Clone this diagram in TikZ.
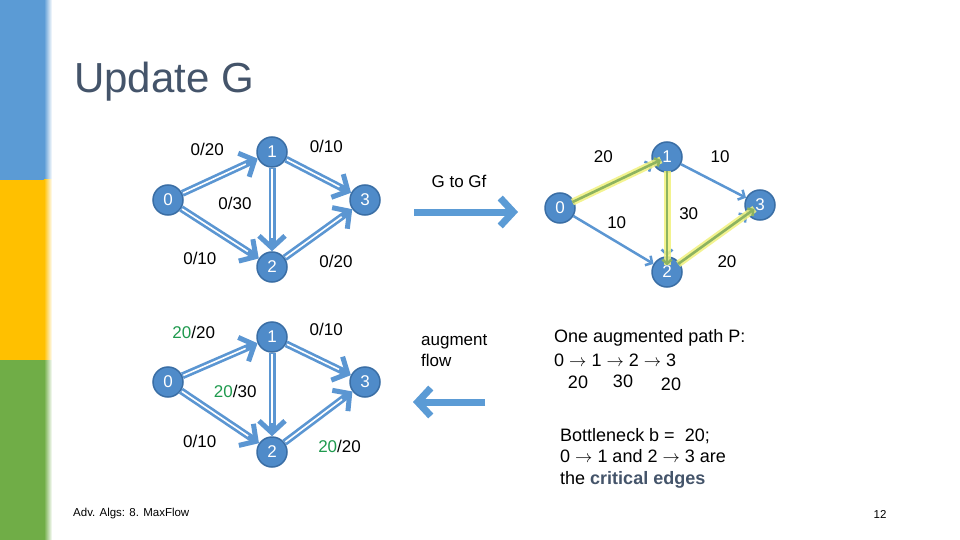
\documentclass[tikz,border=0pt]{standalone}
\usepackage{fontspec}
\setmainfont{Liberation Sans}
\usetikzlibrary{positioning,arrows.meta}

\definecolor{barblue}{HTML}{5B9BD5}
\definecolor{baryellow}{HTML}{FFC000}
\definecolor{bargreen}{HTML}{70AD47}
\definecolor{nodeblue}{HTML}{4F8BC9}
\definecolor{nodeline}{HTML}{3A6EA5}
\definecolor{edgeblue}{HTML}{5B96D2}
\definecolor{titlegray}{HTML}{44546A}
\definecolor{flowgreen}{HTML}{1F9A4E}
\definecolor{hlyellow}{HTML}{F2F27C}
\definecolor{hlgreen}{HTML}{8DB360}

\begin{document}
\begin{tikzpicture}[x=1pt,y=-1pt,on grid]
    \tikzstyle{vertex}=[circle,draw=nodeline,line width=1.5pt,fill=nodeblue,text=white,minimum size=30pt,inner sep=0pt,font=\fontsize{17}{17}\selectfont]
    \tikzstyle{weight}=[font=\fontsize{17}{17}\selectfont,inner sep=2pt]
    \tikzstyle{txt}=[font=\fontsize{18}{21.5}\selectfont,inner sep=0pt]
    \tikzstyle{flow}=[draw=edgeblue,line width=7pt,-{Straight Barb[length=12pt,width=26pt,line width=5pt]},postaction={draw=white,line width=1.6pt,-,shorten >=13pt,shorten <=1pt}]
    \tikzstyle{res}=[draw=edgeblue,line width=2.5pt,-{Straight Barb[length=5pt,width=11pt,line width=2.5pt]}]
    \tikzstyle{hl}=[draw=hlyellow,draw opacity=.85,line width=7pt,shorten <=-2pt,shorten >=-9pt,postaction={draw=hlgreen,draw opacity=1,line width=2.5pt,-{Straight Barb[length=4pt,width=9pt,line width=2.5pt]}}]
    \tikzstyle{bigarrow}=[draw=barblue,line width=7pt,-{Straight Barb[length=13pt,width=28pt,line width=7pt]}]

    \useasboundingbox (0,0) rectangle (960,540);
    \fill[white] (0,0) rectangle (960,540);
    \fill[barblue] (0,0) rectangle (44,180);
    \fill[baryellow] (0,180) rectangle (44,360);
    \fill[bargreen] (0,360) rectangle (44,540);
    \shade[left color=barblue,right color=white] (44,0) rectangle (52,180);
    \shade[left color=baryellow,right color=white] (44,180) rectangle (52,360);
    \shade[left color=bargreen,right color=white] (44,360) rectangle (52,540);

    \node[anchor=west,inner sep=0pt,text=titlegray,font=\fontsize{42}{42}\selectfont] (title) at (74,82) {Update G};

    % G
    \node[vertex] (a0) at (168,200) {0};
    \node[vertex] (a1) [above right=48pt and 104pt of a0] {1};
    \node[vertex] (a2) [below right=67pt and 104pt of a0] {2};
    \node[vertex] (a3) [right=197pt of a0] {3};

    \draw[flow] (a0) to node[weight,pos=.33,above=21pt] {0/20} (a1);
    \draw[flow] (a1) to node[weight,pos=.62,above=22pt] {0/10} (a3);
    \draw[flow] (a1) to node[weight,pos=.43,left=15pt] {0/30} (a2);
    \draw[flow] (a0) to node[weight,pos=.24,below=26pt] {0/10} (a2);
    \draw[flow] (a2) to node[weight,pos=.76,below=29pt] {0/20} (a3);

    % G after augmenting
    \node[vertex] (b0) at (168,382) {0};
    \node[vertex] (b1) [above right=45pt and 104pt of b0] {1};
    \node[vertex] (b2) [below right=70pt and 104pt of b0] {2};
    \node[vertex] (b3) [right=197pt of b0] {3};

    \draw[flow] (b0) to node[weight,pos=.15,above=27pt] {\textcolor{flowgreen}{20}/20} (b1);
    \draw[flow] (b1) to node[weight,pos=.62,above=22pt] {0/10} (b3);
    \draw[flow] (b1) to node[weight,pos=.46,left=10pt] {\textcolor{flowgreen}{20}/30} (b2);
    \draw[flow] (b0) to node[weight,pos=.24,below=26pt] {0/10} (b2);
    \draw[flow] (b2) to node[weight,pos=.81,below=34pt] {\textcolor{flowgreen}{20}/20} (b3);

    % Gf
    \node[vertex] (c0) at (560,208) {0};
    \node[vertex] (c1) [above right=51pt and 107pt of c0] {1};
    \node[vertex] (c2) [below right=64pt and 107pt of c0] {2};
    \node[vertex] (c3) [above right=3pt and 200pt of c0] {3};

    \draw[res] (c0) to node[weight,pos=.37,above=21pt] {20} (c1);
    \draw[res] (c1) to node[weight,pos=.6,above=18pt] {10} (c3);
    \draw[res] (c1) to node[weight,pos=.49,right=9pt] {30} (c2);
    \draw[res] (c0) to node[weight,pos=.54,above=10pt] {10} (c2);
    \draw[res] (c2) to node[weight,pos=.7,below=24pt] {20} (c3);
    \draw[hl] (c0) to (c1);
    \draw[hl] (c1) to (c2);
    \draw[hl] (c2) to (c3);

    \node[weight] (togf) at (459,181) {G to Gf};
    \coordinate (gfa) at (414,212);
    \coordinate (gfb) at (518,212);
    \draw[bigarrow] (gfa) -- (gfb);

    \node[weight,anchor=west,align=left,font=\fontsize{17}{21}\selectfont,inner sep=0pt] (aug) at (421,351) {augment\\flow};
    \coordinate (auga) at (485,402);
    \coordinate (augb) at (413,402);
    \draw[bigarrow] (auga) -- (augb);

    \node[txt,anchor=west] (path) at (554,338) {One augmented path P:};
    \node[txt,anchor=west] (route) at (554,360) {0 $\rightarrow$ 1 $\rightarrow$ 2 $\rightarrow$ 3};
    \node[txt] (w01) at (578,382) {20};
    \node[txt] (w12) at (623,381) {30};
    \node[txt] (w23) at (671,384) {20};

    \node[txt,anchor=west,align=left] (bneck) at (560,458) {Bottleneck b =\ \ 20;\\0 $\rightarrow$ 1 and 2 $\rightarrow$ 3 are\\the \textbf{\textcolor{titlegray}{critical edges}}};

    \node[anchor=west,inner sep=0pt,font=\fontsize{11.5}{12}\selectfont] (foot) at (73,514) {Adv. Algs: 8. MaxFlow};
    \node[inner sep=0pt,font=\fontsize{11.5}{12}\selectfont] (page) at (880,514) {12};
\end{tikzpicture}
\end{document}
